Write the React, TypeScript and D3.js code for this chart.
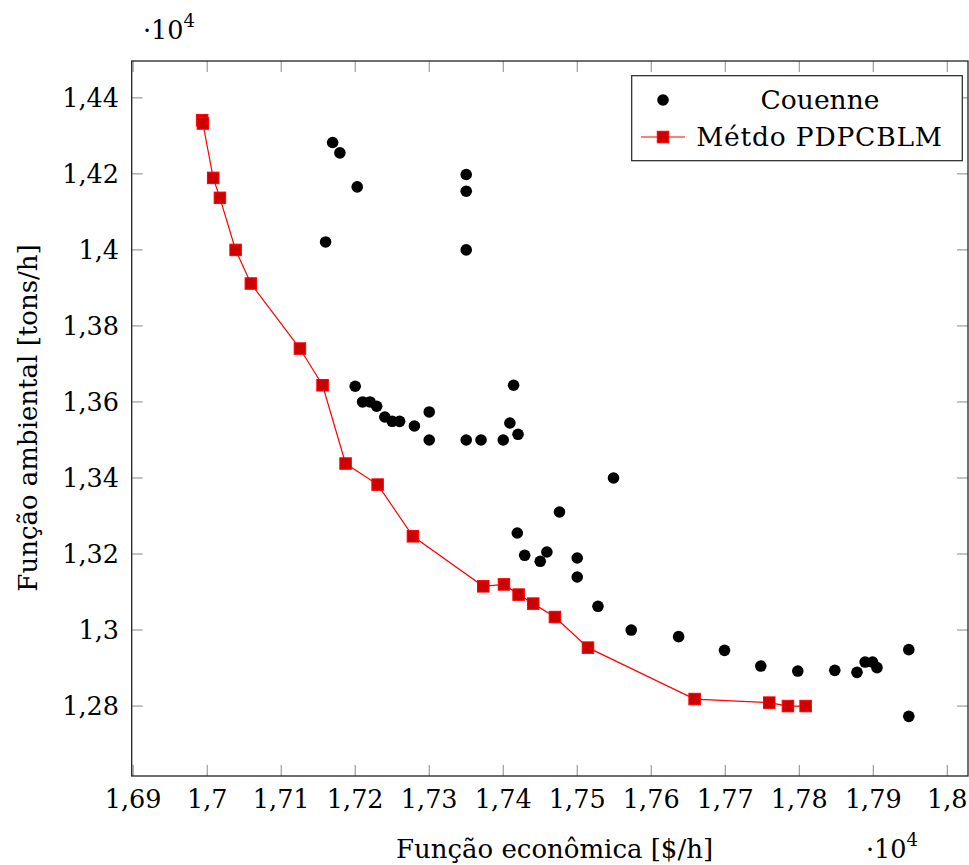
import React from "react";
import * as d3 from "d3";

const couenneX = [1.71695, 1.71793, 1.72027, 1.716, 1.735, 1.735, 1.735, 1.72, 1.721, 1.722, 1.7229, 1.724, 1.725, 1.726, 1.728, 1.73, 1.73, 1.735, 1.737, 1.74, 1.7409, 1.7414, 1.742, 1.7549, 1.7476, 1.7419, 1.7429, 1.7459, 1.745, 1.75, 1.75, 1.7528, 1.7573, 1.7637, 1.7699, 1.7748, 1.7798, 1.7848, 1.7878, 1.7889, 1.7899, 1.7905, 1.7948, 1.7948];
const couenneY = [1.42826, 1.42553, 1.41658, 1.4021, 1.41984, 1.41545, 1.4, 1.36413, 1.36, 1.36, 1.35887, 1.35605, 1.35492, 1.3549, 1.35368, 1.35737, 1.35, 1.35, 1.35, 1.35, 1.35447, 1.3644, 1.3515, 1.34, 1.33105, 1.32553, 1.31966, 1.32053, 1.31808, 1.31895, 1.31395, 1.30624, 1.3, 1.29826, 1.29466, 1.29053, 1.28921, 1.28939, 1.28887, 1.29158, 1.29158, 1.29011, 1.29484, 1.27729];

const pdpX = [1.69932, 1.69942, 1.70081, 1.70172, 1.70384, 1.7059, 1.71253, 1.71559, 1.7187, 1.72303, 1.7278, 1.7373, 1.7401, 1.74208, 1.74405, 1.74699, 1.75145, 1.76586, 1.77595, 1.77847, 1.78086];
const pdpY = [1.43413, 1.43326, 1.41895, 1.4137, 1.4, 1.39116, 1.37405, 1.3644, 1.3438, 1.33826, 1.32466, 1.3115, 1.312, 1.30932, 1.30695, 1.30342, 1.29537, 1.28184, 1.2809, 1.28, 1.28];

const xTicks = [1.69, 1.7, 1.71, 1.72, 1.73, 1.74, 1.75, 1.76, 1.77, 1.78, 1.79, 1.8];
const yTicks = [1.28, 1.3, 1.32, 1.34, 1.36, 1.38, 1.4, 1.42, 1.44];

const seriesNames = ["Couenne", "Métdo PDPCBLM"];
const xLabel = "Função econômica [$/h]";
const yLabel = "Função ambiental [tons/h]";

const W = 969;
const H = 865;
const L = 131.7, R = 968, T = 61, B = 776;

const fmt = (v: number) => String(+v.toFixed(2)).replace(".", ",");
const FONT = '"DejaVu Serif", serif';
const tickStyle: React.CSSProperties = { fontFamily: FONT, fontSize: 25.5 };
const legStyle: React.CSSProperties = { fontFamily: FONT, fontSize: 26.5 };
const labStyle: React.CSSProperties = { fontFamily: FONT, fontSize: 26 };

export default function App() {
  const x = d3.scaleLinear().domain([1.6898, 1.8028]).range([L, R]);
  const y = d3.scaleLinear().domain([1.2616, 1.4497]).range([B, T]);
  const line = d3
    .line<number>()
    .x((i) => x(pdpX[i]))
    .y((i) => y(pdpY[i]));
  const idx = pdpX.map((_, i) => i);
  const sq = 11.5;
  const tickLen = 11;
  const tickColor = "#888";

  return (
    <svg
      width={W}
      height={H}
      style={{ position: "absolute", left: 0, top: 0, background: "#fff" }}
    >
      <rect x={0} y={0} width={W} height={H} fill="#fff" />
      {xTicks.map((t) => (
        <g key={"xt" + t}>
          <line x1={x(t)} x2={x(t)} y1={B} y2={B - tickLen} stroke={tickColor} strokeWidth={1} />
          <line x1={x(t)} x2={x(t)} y1={T} y2={T + tickLen} stroke={tickColor} strokeWidth={1} />
          <text x={x(t)} y={808} textAnchor="middle" style={tickStyle}>
            {fmt(t)}
          </text>
        </g>
      ))}
      {yTicks.map((t) => (
        <g key={"yt" + t}>
          <line x1={L} x2={L + tickLen} y1={y(t)} y2={y(t)} stroke={tickColor} strokeWidth={1} />
          <line x1={R} x2={R - tickLen} y1={y(t)} y2={y(t)} stroke={tickColor} strokeWidth={1} />
          <text x={119} y={y(t) + 9} textAnchor="end" style={tickStyle}>
            {fmt(t)}
          </text>
        </g>
      ))}
      <rect x={L} y={T} width={R - L} height={B - T} fill="none" stroke="#222" strokeWidth={1.3} />

      <path d={line(idx) || ""} fill="none" stroke="red" strokeWidth={1.2} />
      {idx.map((i) => (
        <rect
          key={"s" + i}
          x={x(pdpX[i]) - sq / 2}
          y={y(pdpY[i]) - sq / 2}
          width={sq}
          height={sq}
          fill="#cc0000"
          stroke="red"
          strokeWidth={1}
        />
      ))}
      {couenneX.map((v, i) => (
        <circle key={"c" + i} cx={x(v)} cy={y(couenneY[i])} r={5.8} fill="black" />
      ))}

      <rect x={631.7} y={75.7} width={330.6} height={85} fill="#fff" stroke="#222" strokeWidth={1.2} />
      <circle cx={663} cy={100} r={5.8} fill="black" />
      <line x1={641} x2={685} y1={137} y2={137} stroke="red" strokeWidth={1.2} />
      <rect x={663 - sq / 2} y={137 - sq / 2} width={sq} height={sq} fill="#cc0000" stroke="red" strokeWidth={1} />
      <text x={820} y={109} textAnchor="middle" style={legStyle}>
        {seriesNames[0]}
      </text>
      <text x={819.5} y={146} textAnchor="middle" style={legStyle} letterSpacing={0.8}>
        {seriesNames[1]}
      </text>

      <text x={143} y={39} style={tickStyle}>
        ·10<tspan style={{ fontSize: 18 }} dy={-12}>4</tspan>
      </text>
      <text x={866} y={858} style={tickStyle}>
        ·10<tspan style={{ fontSize: 18 }} dy={-12}>4</tspan>
      </text>

      <text x={554.5} y={858} textAnchor="middle" style={labStyle}>
        {xLabel}
      </text>
      <text
        transform={`translate(37, 418) rotate(-90)`}
        textAnchor="middle"
        style={labStyle}
      >
        {yLabel}
      </text>
    </svg>
  );
}
